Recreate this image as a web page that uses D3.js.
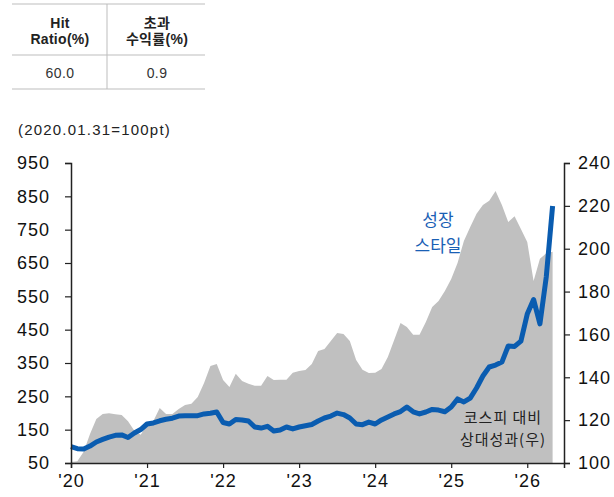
<!DOCTYPE html>
<html>
<head>
<meta charset="utf-8">
<script src="https://cdn.jsdelivr.net/npm/d3@7"></script>
<style>
  body { margin: 0; background: #fff; }
  svg { display: block; font-family: "Liberation Sans", Arial, "Noto Sans CJK KR", sans-serif; }
</style>
</head>
<body>
<svg id="chart" width="614" height="497"></svg>
<script>
// monthly points, 2020.01 .. 2026.05
const growthIndex = [
  53, 55, 84, 137, 182, 197, 199, 196, 194, 175, 147, 135,
  164, 176, 215, 197, 197, 212, 224, 228, 248, 290, 341, 347,
  299, 278, 318, 296, 288, 282, 282, 311, 299, 300, 300, 321,
  326, 329, 347, 386, 392, 416, 440, 437, 416, 359, 330, 320,
  321, 332, 368, 419, 470, 458, 435, 435, 473, 518, 536, 566,
  602, 650, 716, 758, 798, 824, 837, 866, 824, 773, 790, 752,
  713, 596, 663, 679, 684
];
const relPerf = [
  107.6, 106.7, 106.5, 107.9, 109.8, 111.0, 112.1, 112.9, 113.1, 111.9, 114.0, 115.6,
  118.2, 118.7, 119.7, 120.4, 120.9, 121.9, 122.1, 122.1, 122.1, 122.9, 123.2, 123.8,
  118.9, 118.2, 120.3, 120.1, 119.6, 116.8, 116.3, 117.1, 114.9, 115.4, 116.8, 115.9,
  116.8, 117.4, 118.0, 119.6, 121.0, 121.9, 123.3, 122.6, 121.0, 118.2, 117.9, 119.1,
  118.2, 120.1, 121.5, 122.9, 124.0, 126.1, 123.9, 122.9, 123.8, 125.0, 124.7, 123.9,
  126.1, 129.9, 128.5, 130.3, 135.0, 140.6, 144.8, 145.7, 147.1, 154.6, 154.4, 156.9,
  169.5, 176.3, 164.9, 186.8, 219.9
];
const yearLabels = ["'20", "'21", "'22", "'23", "'24", "'25", "'26"];
const leftTicks = [50, 150, 250, 350, 450, 550, 650, 750, 850, 950];
const rightTicks = [100, 120, 140, 160, 180, 200, 220, 240];

const svg = d3.select('#chart');
const m = { top: 163, right: 50, bottom: 34, left: 71 };
const W = 614, H = 497;

const x = d3.scaleLinear().domain([0, 77.8]).range([m.left, W - m.right]);
const yL = d3.scaleLinear().domain([50, 950]).range([H - m.bottom, m.top]);
const yR = d3.scaleLinear().domain([100, 240]).range([H - m.bottom, m.top]);

// --- summary table ---
const table = svg.append('g').attr('class', 'table');
const tLine = '#bdbdbd';
[4, 55, 89].forEach(y => table.append('line')
  .attr('x1', 12).attr('x2', 205).attr('y1', y).attr('y2', y)
  .attr('stroke', tLine).attr('stroke-width', 1));
table.append('line').attr('x1', 107).attr('x2', 107).attr('y1', 4).attr('y2', 89)
  .attr('stroke', tLine).attr('stroke-width', 1);
const heads = [['Hit', 'Ratio(%)'], ['초과', '수익률(%)']];
const cols = [60, 157];
heads.forEach((h, i) => h.forEach((t, j) => table.append('text')
  .attr('x', cols[i]).attr('y', 28 + j * 16)
  .attr('text-anchor', 'middle').attr('font-size', 14).attr('font-weight', 'bold')
  .attr('letter-spacing', 0.3).attr('fill', '#222').text(t)));
['60.0', '0.9'].forEach((t, i) => table.append('text')
  .attr('x', cols[i]).attr('y', 78).attr('text-anchor', 'middle')
  .attr('font-size', 14).attr('letter-spacing', 0.4).attr('fill', '#333').text(t));

svg.append('text').attr('x', 18).attr('y', 135).attr('font-size', 15)
  .attr('letter-spacing', 1.2).attr('fill', '#222')
  .text('(2020.01.31=100pt)');

// --- gray area (left axis) ---
svg.append('path')
  .datum(growthIndex)
  .attr('fill', '#c0c0c0')
  .attr('d', d3.area().x((d, i) => x(i)).y0(yL(50)).y1(d => yL(d)));

// --- blue line (right axis) ---
svg.append('path')
  .datum(relPerf)
  .attr('fill', 'none')
  .attr('stroke', '#0a5cb0')
  .attr('stroke-width', 5)
  .attr('stroke-linejoin', 'round')
  .attr('d', d3.line().x((d, i) => x(i)).y(d => yR(d)));

// --- axes ---
const styleAxis = g => {
  g.selectAll('.domain').attr('stroke', '#222').attr('stroke-width', 1.5);
  g.selectAll('.tick line').attr('stroke', '#222').attr('stroke-width', 1.2);
  g.selectAll('.tick text').attr('font-size', 18).attr('fill', '#111')
    .attr('letter-spacing', 1)
    .attr('font-family', '"Liberation Sans", Arial, sans-serif');
};

svg.append('g').attr('transform', `translate(${m.left},0)`)
  .call(d3.axisLeft(yL).tickValues(leftTicks).tickSizeOuter(0).tickSize(6).tickPadding(15))
  .call(styleAxis);

svg.append('g').attr('transform', `translate(${W - m.right},0)`)
  .call(d3.axisRight(yR).tickValues(rightTicks).tickSizeOuter(0).tickSize(6).tickPadding(8))
  .call(styleAxis);

svg.append('g').attr('transform', `translate(0,${H - m.bottom})`)
  .call(d3.axisBottom(x).tickValues(d3.range(0, 73, 12)).tickFormat((d, i) => yearLabels[i])
    .tickSizeOuter(0).tickSize(5).tickPadding(6))
  .call(styleAxis);

// --- annotations (two-line labels) ---
const note = (lines, cx, cy, gap, size, color, spacing) => {
  const t = svg.append('text')
    .attr('text-anchor', 'middle').attr('font-size', size)
    .attr('letter-spacing', spacing)
    .attr('font-family', '"Noto Sans CJK KR", sans-serif')
    .attr('fill', color);
  lines.forEach((s, i) => t.append('tspan')
    .attr('x', cx).attr('y', cy + i * gap).attr('dy', '0.35em').text(s));
};
note(['성장', '스타일'], 438, 220, 26, 17, '#1a60b5', 0);
note(['코스피 대비', '상대성과(우)'], 503, 418, 22, 15, '#222', 1);
</script>
</body>
</html>
